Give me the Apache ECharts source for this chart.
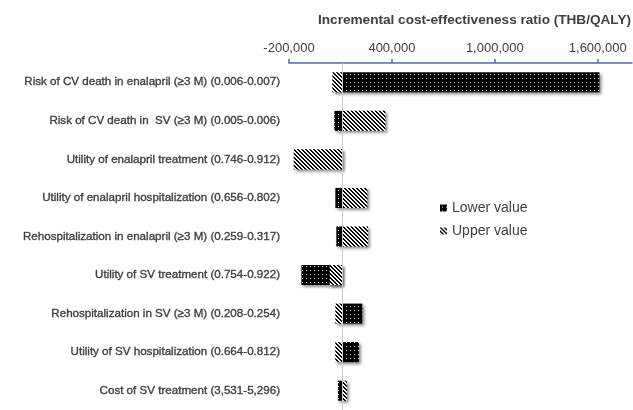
<!DOCTYPE html>
<html>
<head>
<meta charset="utf-8">
<script src="https://cdn.jsdelivr.net/npm/echarts@6/dist/echarts.min.js"></script>
<style>
  html, body { margin: 0; padding: 0; background: #fff; }
  #chart { width: 633px; height: 410px; }
</style>
</head>
<body>
<div id="chart"></div>
<script>
// tornado data (ICER, THB/QALY)
var categories = [
  'Risk of CV death in enalapril (≥3 M) (0.006-0.007)',
  'Risk of CV death in  SV (≥3 M) (0.005-0.006)',
  'Utility of enalapril treatment (0.746-0.912)',
  'Utility of enalapril hospitalization (0.656-0.802)',
  'Rehospitalization in enalapril (≥3 M) (0.259-0.317)',
  'Utility of SV treatment (0.754-0.922)',
  'Rehospitalization in SV (≥3 M) (0.208-0.254)',
  'Utility of SV hospitalization (0.664-0.812)',
  'Cost of SV treatment (3,531-5,296)'
];
var baseIcer = 109000;
var lowerValues = [1610000, 64500, 100000, 70300, 76000, -127800, 227600, 207700, 85000];
var upperValues = [52800, 361500, -172600, 256700, 260000, 37100, 70300, 70000, 137000];
var tickValues = [-200000, 400000, 1000000, 1600000];

// fill patterns
function makePattern(draw) {
  var c = document.createElement('canvas');
  c.width = 4; c.height = 4;
  draw(c.getContext('2d'));
  return { image: c, repeat: 'repeat' };
}
var dotFill = makePattern(function (ctx) {
  ctx.fillStyle = '#000';
  ctx.fillRect(0, 0, 4, 4);
  ctx.fillStyle = '#e6e6e6';
  ctx.fillRect(2, 2, 1, 1);
});
var hatchFill = makePattern(function (ctx) {
  for (var x = 0; x < 4; x++) {
    for (var y = 0; y < 4; y++) {
      ctx.fillStyle = (((x - y) % 4 + 4) % 4) < 2 ? '#000' : '#fff';
      ctx.fillRect(x, y, 1, 1);
    }
  }
});

function renderBar(params, api) {
  var cat = api.value(0);
  var a = api.coord([baseIcer, cat]);
  var b = api.coord([api.value(1), cat]);
  var h = api.size([0, 1])[1] * 0.52;
  return {
    type: 'rect',
    shape: { x: Math.min(a[0], b[0]), y: a[1] - h / 2, width: Math.abs(b[0] - a[0]), height: h },
    style: api.style()
  };
}

var chart = echarts.init(document.getElementById('chart'));
var labelColor = '#404040';
var barShadow = { shadowBlur: 3, shadowOffsetX: 2, shadowOffsetY: 2, shadowColor: 'rgba(0,0,0,0.45)' };

chart.setOption({
  animation: false,
  title: {
    text: 'Incremental cost-effectiveness ratio (THB/QALY)',
    left: 313,
    top: 8,
    textStyle: { fontFamily: 'Liberation Sans', fontSize: 13.6, fontWeight: 'bold', color: labelColor }
  },
  legend: {
    orient: 'vertical',
    left: 435,
    top: 196,
    itemWidth: 7,
    itemHeight: 7,
    itemGap: 9,
    icon: 'rect',
    textStyle: { fontFamily: 'Liberation Sans', fontSize: 14, color: labelColor },
    data: ['Lower value', 'Upper value']
  },
  grid: { left: 289, right: 1, top: 63, height: 351 },
  xAxis: {
    type: 'value',
    position: 'top',
    min: -200000,
    max: 1800000,
    splitLine: { show: false },
    axisLine: { show: true, lineStyle: { color: '#4a6db3', width: 1.5 } },
    axisTick: { show: true, length: 4, customValues: tickValues, lineStyle: { color: '#4a6db3', width: 1.5 } },
    axisLabel: {
      customValues: tickValues,
      margin: 8,
      fontFamily: 'Liberation Sans',
      fontSize: 13,
      color: labelColor,
      formatter: function (v) { return v.toLocaleString('en-US'); }
    }
  },
  yAxis: {
    type: 'category',
    inverse: true,
    data: categories,
    axisLine: { show: false },
    axisTick: { show: false },
    axisLabel: {
      margin: 9,
      fontFamily: 'Liberation Sans',
      fontSize: 11.6,
      color: labelColor,
      textBorderColor: labelColor,
      textBorderWidth: 0.35
    }
  },
  series: [
    {
      name: 'Lower value',
      type: 'custom',
      renderItem: renderBar,
      encode: { x: 1, y: 0 },
      itemStyle: Object.assign({ color: dotFill }, barShadow),
      data: lowerValues.map(function (v, i) { return [i, v]; }),
      markLine: {
        silent: true,
        symbol: 'none',
        label: { show: false },
        lineStyle: { color: '#c8c8c8', type: 'solid', width: 1 },
        data: [{ xAxis: baseIcer }]
      }
    },
    {
      name: 'Upper value',
      type: 'custom',
      renderItem: renderBar,
      encode: { x: 1, y: 0 },
      itemStyle: Object.assign({ color: hatchFill }, barShadow),
      data: upperValues.map(function (v, i) { return [i, v]; })
    }
  ]
});
</script>
</body>
</html>
